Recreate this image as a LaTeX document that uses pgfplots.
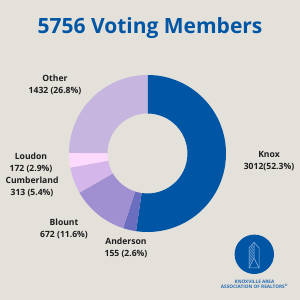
\documentclass[border=0pt]{standalone}
\usepackage{pgfplots}
\usepackage{pgfplotstable}
\pgfplotsset{compat=1.18}
\usepackage{fontspec}
\setmainfont{Open Sans}
\definecolor{bg}{HTML}{E4E0DA}
\definecolor{knox}{HTML}{0056A4}
\definecolor{anderson}{HTML}{6B6EBE}
\definecolor{blount}{HTML}{A090D2}
\definecolor{cumberland}{HTML}{D5B6EA}
\definecolor{loudon}{HTML}{FDD9FD}
\definecolor{other}{HTML}{C6B6DF}
\definecolor{lbl}{HTML}{1E1E1E}
\definecolor{icon}{HTML}{9DB8DE}
\pgfplotstableread{
name value
Knox 3012
Anderson 155
Blount 672
Cumberland 313
Loudon 172
Other 1432
}\votes
\begin{document}
\begin{tikzpicture}
\pgfplotstablegetelem{0}{value}\of\votes \edef\vA{\pgfplotsretval}
\pgfplotstablegetelem{1}{value}\of\votes \edef\vB{\pgfplotsretval}
\pgfplotstablegetelem{2}{value}\of\votes \edef\vC{\pgfplotsretval}
\pgfplotstablegetelem{3}{value}\of\votes \edef\vD{\pgfplotsretval}
\pgfplotstablegetelem{4}{value}\of\votes \edef\vE{\pgfplotsretval}
\pgfplotstablegetelem{5}{value}\of\votes \edef\vF{\pgfplotsretval}
\pgfmathsetmacro\tot{\vA+\vB+\vC+\vD+\vE+\vF}
\pgfmathsetmacro\aA{90}
\pgfmathsetmacro\aB{\aA-360*(\vA/\tot)}
\pgfmathsetmacro\aC{\aB-360*(\vB/\tot)}
\pgfmathsetmacro\aD{\aC-360*(\vC/\tot)}
\pgfmathsetmacro\aE{\aD-360*(\vD/\tot)}
\pgfmathsetmacro\aF{\aE-360*(\vE/\tot)}
\pgfmathsetmacro\aG{\aF-360*(\vF/\tot)}
\def\cx{147.5}\def\cy{146.5}\def\ro{78.5}\def\ri{40}
\newcommand\slice[3]{%
  \fill[#3] (axis cs:{\cx+\ro*cos(#1)},{\cy+\ro*sin(#1)})
    arc[start angle=#1, end angle=#2, radius=\ro pt]
    -- (axis cs:{\cx+\ri*cos(#2)},{\cy+\ri*sin(#2)})
    arc[start angle=#2, end angle=#1, radius=\ri pt] -- cycle;}
\begin{axis}[
  scale only axis, width=300pt, height=300pt,
  xmin=0, xmax=300, ymin=0, ymax=300,
  axis lines=none, clip=false,
]
\fill[bg] (axis cs:0,0) rectangle (axis cs:300,300);
\slice{\aA}{\aB}{knox}
\slice{\aB}{\aC}{anderson}
\slice{\aC}{\aD}{blount}
\slice{\aD}{\aE}{cumberland}
\slice{\aE}{\aF}{loudon}
\slice{\aF}{\aG}{other}
\node[font=\fontsize{21}{24}\selectfont\bfseries, text=knox] at (axis cs:150,272) {5756 Voting Members};
\tikzset{lab/.style={font=\fontsize{8.6}{12}\selectfont\bfseries, text=lbl, align=center, inner sep=0pt}}
\node[lab] at (axis cs:55,215) {Other\\1432 (26.8\%)};
\node[lab] at (axis cs:31,137.5) {Loudon\\172 (2.9\%)};
\node[lab] at (axis cs:32,113.5) {Cumberland\\313 (5.4\%)};
\node[lab] at (axis cs:64,71.5) {Blount\\672 (11.6\%)};
\node[lab] at (axis cs:126,52.5) {Anderson\\155 (2.6\%)};
\node[lab] at (axis cs:269,139) {Knox\\3012(52.3\%)};
% logo
\fill[knox] (axis cs:254.3,45.7) circle[radius=19.7pt];
\draw[icon, line width=0.5pt, line join=miter]
  (axis cs:254,57.7) -- (axis cs:259,52) -- (axis cs:259,32) -- (axis cs:249,32) -- (axis cs:249,52) -- cycle;
\draw[icon, line width=0.5pt] (axis cs:254,57.7) -- (axis cs:254,42) (axis cs:249,32) -- (axis cs:254,42) -- (axis cs:259,32);
\draw[icon, line width=0.3pt] (axis cs:249,36) -- (axis cs:254,45)
  (axis cs:249,39) -- (axis cs:254,48) (axis cs:249,42) -- (axis cs:254,51)
  (axis cs:249,45) -- (axis cs:254,54) (axis cs:249,48) -- (axis cs:253,55.2);
\node[font=\fontsize{4.7}{5.6}\selectfont\bfseries, text=knox!85!white, align=center, inner sep=0pt] at (axis cs:254.5,15.5) {KNOXVILLE AREA\\ASSOCIATION OF REALTORS\textsuperscript{®}};
\end{axis}
\end{tikzpicture}
\end{document}
